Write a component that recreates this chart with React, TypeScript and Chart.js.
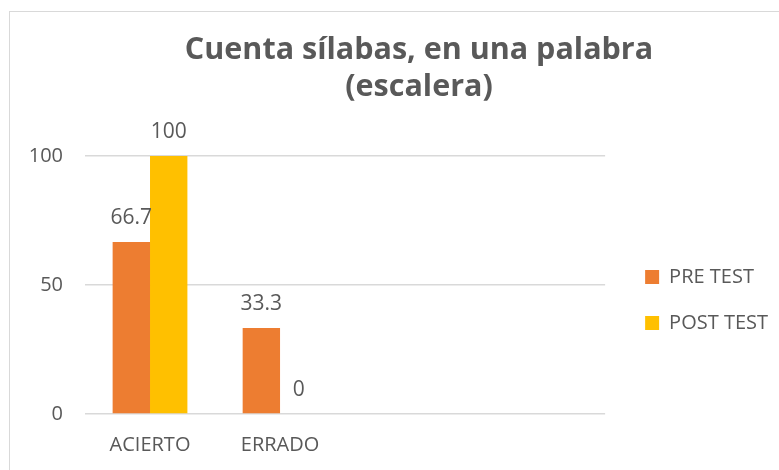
import React, { useEffect, useRef } from 'react';
import { Chart, registerables } from 'chart.js';

Chart.register(...registerables);

const TITLE_LINES = ['Cuenta sílabas, en una palabra', '(escalera)'];
const CATEGORIES = ['ACIERTO', 'ERRADO', '', ''];
const SERIES_NAMES = ['PRE TEST', 'POST TEST'];
const PRE_TEST = [66.7, 33.3, null, null];
const POST_TEST = [100, 0, null, null];
const Y_MIN = 0;
const Y_MAX = 100;
const Y_STEP = 50;

const TEXT = '#595959';
const FONT = "'Open Sans', sans-serif";

const valueLabels = {
  id: 'valueLabels',
  afterDatasetsDraw(chart: any) {
    const ctx = chart.ctx;
    ctx.save();
    ctx.font = `21px ${FONT}`;
    ctx.fillStyle = TEXT;
    ctx.textAlign = 'center';
    ctx.textBaseline = 'alphabetic';
    chart.data.datasets.forEach((ds: any, i: number) => {
      const meta = chart.getDatasetMeta(i);
      meta.data.forEach((el: any, j: number) => {
        const v = ds.data[j];
        if (v === null || v === undefined) return;
        ctx.fillText(String(v), el.x, el.y - 18);
      });
    });
    ctx.restore();
  },
};

export default function App() {
  const ref = useRef<HTMLCanvasElement | null>(null);

  useEffect(() => {
    document.body.style.overflow = 'hidden';
    const canvas = ref.current;
    if (!canvas) return;
    const chart = new Chart(canvas, {
      type: 'bar',
      data: {
        labels: CATEGORIES,
        datasets: [
          {
            label: SERIES_NAMES[0],
            data: PRE_TEST,
            backgroundColor: '#ED7D31',
            borderWidth: 0,
            yAxisID: 'y',
          },
          {
            label: SERIES_NAMES[1],
            data: POST_TEST,
            backgroundColor: '#FFC000',
            borderWidth: 0,
            yAxisID: 'y',
          },
        ],
      },
      options: {
        responsive: false,
        maintainAspectRatio: false,
        animation: false,
        layout: { padding: { left: 10, right: 10, top: 0, bottom: 2 } },
        datasets: { bar: { categoryPercentage: 0.575, barPercentage: 1 } },
        scales: {
          x: {
            grid: { display: false },
            border: { display: false },
            ticks: { color: TEXT, font: { family: FONT, size: 20 }, padding: 11 },
          },
          y: {
            min: Y_MIN,
            max: Y_MAX,
            grid: { color: '#d9d9d9', lineWidth: 1.5, drawTicks: false },
            border: { display: false },
            ticks: { stepSize: Y_STEP, color: TEXT, font: { family: FONT, size: 20 }, padding: 22 },
            afterFit: (s: any) => { s.width = 65; },
          },
          yRight: {
            position: 'right',
            display: true,
            weight: 0,
            grid: { display: false },
            border: { display: false },
            ticks: { display: false },
            afterFit: (s: any) => { s.width = 14; },
          },
          yOuter: {
            position: 'right',
            display: true,
            weight: 2000,
            grid: { display: false },
            border: { display: false },
            ticks: { display: false },
            afterFit: (s: any) => { s.width = 40; },
          },
        },
        plugins: {
          title: {
            display: true,
            text: TITLE_LINES,
            color: TEXT,
            font: { family: FONT, size: 30.5, weight: 'bold', lineHeight: 1.213 },
            padding: { top: 19.5, bottom: 50.5 },
          },
          legend: {
            position: 'right',
            align: 'start',
            fullSize: false,
            maxWidth: 400,
            title: { display: true, text: '', font: { size: 10, lineHeight: 1 }, padding: { top: 0, bottom: 75 } },
            labels: {
              color: TEXT,
              font: { family: FONT, size: 20 },
              boxWidth: 14,
              boxHeight: 14,
              padding: 26,
            },
          },
          tooltip: { enabled: false },
        },
      } as any,
      plugins: [valueLabels],
    });
    return () => chart.destroy();
  }, []);

  return (
    <div
      style={{
        position: 'absolute',
        left: 9,
        top: 11,
        width: 769,
        height: 458,
        overflow: 'hidden',
        borderLeft: '1px solid #d9d9d9',
        borderTop: '1px solid #d9d9d9',
        background: '#ffffff',
      }}
    >
      <canvas ref={ref} width={818} height={458} style={{ display: 'block' }} />
    </div>
  );
}
